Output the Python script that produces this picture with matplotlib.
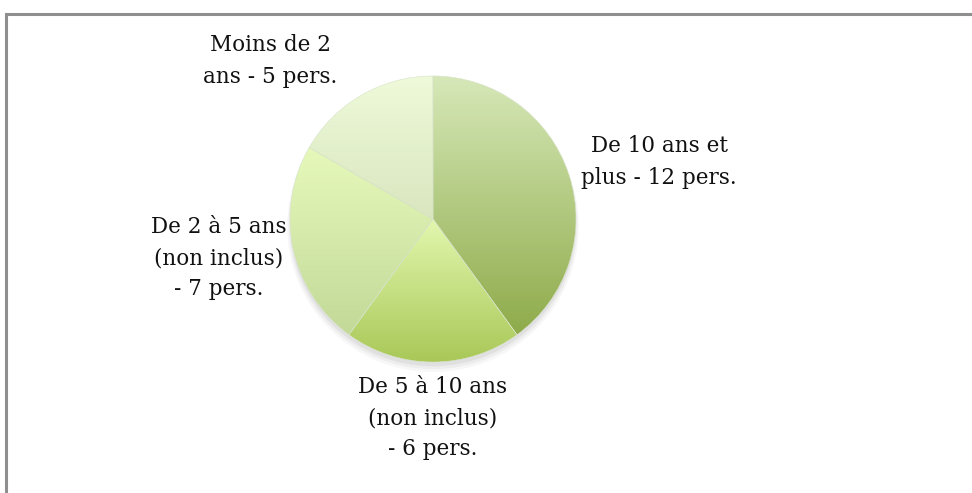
import matplotlib.pyplot as plt
import matplotlib.patches as mpatches
import numpy as np

labels = ["De 10 ans et\nplus - 12 pers.",
          "De 5 à 10 ans\n(non inclus)\n- 6 pers.",
          "De 2 à 5 ans\n(non inclus)\n- 7 pers.",
          "Moins de 2\nans - 5 pers."]
values = [12, 6, 7, 5]
# gradient colours per slice (top, bottom)
grad = [("#d6e8b8", "#8eab4a"),
        ("#e2f7ae", "#a9c858"),
        ("#e6f9bb", "#c2d998"),
        ("#eefad9", "#d9e6bf")]

W, H = 972, 493
cx, cy, R = 433, 219, 143

fig = plt.figure(figsize=(W / 100, H / 100), dpi=100)
ax = fig.add_axes([0, 0, 1, 1])

# frame (left and top edges only visible)
fig.patches.append(mpatches.Rectangle((6 / W, -0.1), 1.2, (H - 14) / H + 0.1,
                                      transform=fig.transFigure, fill=False,
                                      edgecolor="#8f8f8f", linewidth=2.2))

# soft shadow
for i, a in enumerate([0.05, 0.04, 0.03]):
    ax.add_patch(mpatches.Circle((0, -0.03 - 0.01 * i), 1.0 + 0.01 * i,
                                 color="black", alpha=a, zorder=0, lw=0))

wedges, _ = ax.pie(values, startangle=90, counterclock=False, radius=1,
                   wedgeprops=dict(linewidth=0.4, edgecolor="#d8e3c8"))

for w, (top, bot) in zip(wedges, grad):
    w.set_facecolor("none")
    path = w.get_path()
    ys = path.vertices[:, 1]
    xs = path.vertices[:, 0]
    y0, y1 = ys.min(), ys.max()
    c0 = np.array(plt.matplotlib.colors.to_rgb(top))
    c1 = np.array(plt.matplotlib.colors.to_rgb(bot))
    t = np.linspace(0, 1, 256)[:, None]
    img = (c0 * (1 - t) + c1 * t)[:, None, :]
    im = ax.imshow(img, extent=[xs.min(), xs.max(), y0, y1], origin="upper",
                   aspect="auto", zorder=1)
    im.set_clip_path(w)
    w.set_zorder(2)

font = dict(family=["DejaVu Serif"], fontsize=15.5,
            ha="center", va="center", linespacing=1.55, color="#111111")
label_pos = [(659, 162), (433, 418), (219, 258), (270, 61)]
for lab, (px, py) in zip(labels, label_pos):
    ax.text((px - cx) / R, (cy - py) / R, lab, **font)

ax.set_xlim(-cx / R, (W - cx) / R)
ax.set_ylim(-(H - cy) / R, cy / R)
ax.set_aspect("equal")
ax.axis("off")

fig.savefig("out.png", dpi=100)
